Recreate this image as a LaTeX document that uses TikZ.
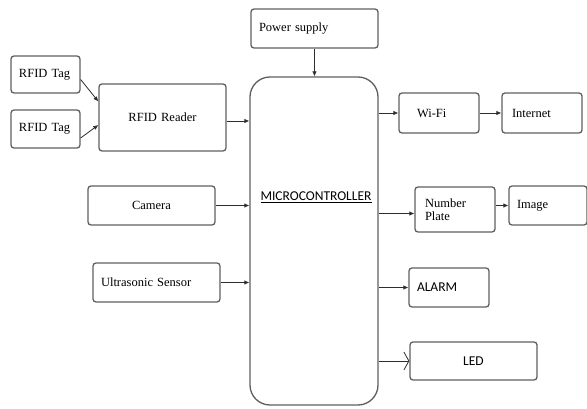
\documentclass[tikz,border=0pt]{standalone}
\usepackage{fontspec}
\setmainfont{Liberation Serif}
\newfontfamily\calfont{Carlito}
\usetikzlibrary{arrows.meta}
\definecolor{boxgray}{RGB}{95,95,95}
\definecolor{linegray}{RGB}{45,45,45}
\tikzset{
	box/.style={draw=boxgray, line width=1.3pt, rounded corners=3pt, inner xsep=8pt, inner ysep=0pt, align=left, font=\fontsize{12.5}{14}\selectfont},
	sansbox/.style={box, font=\calfont\fontsize{13.5}{15}\selectfont},
	conn/.style={draw=linegray, line width=0.8pt, -{Latex[length=5pt,width=4.5pt]}}
}
\begin{document}
\begin{tikzpicture}[x=1pt, y=-1pt]
		\useasboundingbox (0,0) rectangle (587,409);
		\node[box, minimum height=37pt, text width=53pt] (tagA) at (45.5,74.5) {RFID Tag};
		\node[box, minimum height=38pt, text width=53pt] (tagB) at (45.5,129) {RFID Tag};
		\node[box, minimum height=67pt, text width=111pt, align=center] (reader) at (162.5,117.5) {RFID Reader};
		\node[box, minimum height=39pt, text width=111pt] (power) at (314.5,28.5) {Power supply};
		\node[box, minimum height=39pt, text width=111pt, align=center] (camera) at (151.5,205.5) {Camera};
		\node[box, minimum height=39pt, text width=111pt] (ultra) at (156.5,282.5) {Ultrasonic Sensor};
		\node[box, minimum width=128pt, minimum height=328pt, rounded corners=20pt] (mc) at (314,241) {};
		\node[font=\calfont\fontsize{13.5}{15}\selectfont, inner sep=1pt] (mclabel) at (316,197) {\underline{MICROCONTROLLER}};
		\node[box, minimum height=40pt, inner xsep=18pt, text width=44pt] (wifi) at (439,113) {Wi-Fi};
		\node[box, minimum height=40pt, inner xsep=10pt, text width=60pt] (internet) at (542,113) {Internet};
		\node[box, minimum height=45pt, inner xsep=10pt, text width=60pt, font=\fontsize{12.5}{13}\selectfont] (plate) at (455,209.5) {Number\\Plate};
		\node[box, minimum height=39pt, text width=62pt] (image) at (548,205.5) {Image};
		\node[sansbox, minimum height=39pt, text width=64pt] (alarm) at (449,287.5) {ALARM};
		\node[sansbox, minimum height=38pt, text width=111pt, align=center] (led) at (473.5,361) {LED};
		
		\draw[conn] ([yshift=-5pt]tagA.east) -- ([yshift=16pt]reader.west);
		\draw[conn] ([yshift=-9pt]tagB.east) -- ([yshift=-7.5pt]reader.west);
		\draw[conn] ([yshift=-3.5pt]reader.east) -- ([yshift=-3.5pt]reader.east -| mc.west);
		\draw[conn] (power.south) -- (power.south |- mc.north);
		\draw[conn] (camera.east) -- (camera.east -| mc.west);
		\draw[conn] (ultra.east) -- (ultra.east -| mc.west);
		\draw[conn] (wifi.west -| mc.east) -- (wifi.west);
		\draw[conn] (wifi) -- (internet);
		\draw[conn] ([yshift=-4pt]plate.west -| mc.east) -- ([yshift=-4pt]plate.west);
		\draw[conn] (plate.east |- image.west) -- (image.west);
		\draw[conn] (alarm.west -| mc.east) -- (alarm.west);
		\draw[draw=linegray, line width=0.8pt, -{Straight Barb[length=5pt,width=18pt]}] (led.west -| mc.east) -- (led.west);
	\end{tikzpicture}
\end{document}
